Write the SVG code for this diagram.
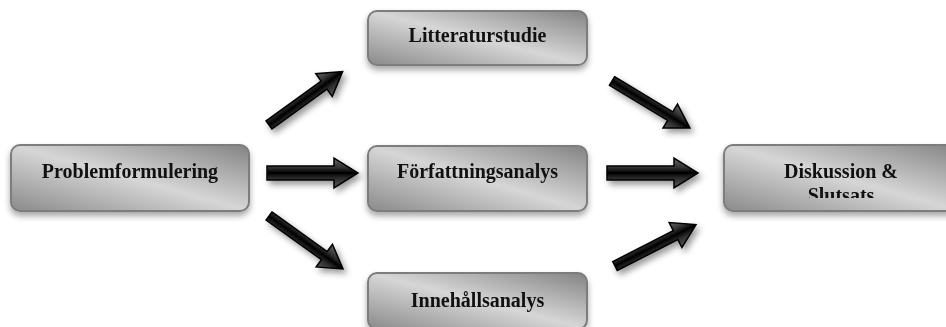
<svg xmlns="http://www.w3.org/2000/svg" xmlns:xlink="http://www.w3.org/1999/xlink" width="946" height="327" viewBox="0 0 946 327">
  <style>
    .box { fill: url(#boxg); stroke: #7d7d7d; stroke-width: 2; }
    .lbl { font-family: "Liberation Serif", "Times New Roman", serif; font-weight: bold; font-size: 20px; fill: #111; text-anchor: middle; }
    .arr { fill: url(#arrg); stroke: #000; stroke-width: 1.5; stroke-linejoin: miter; }
  </style>
  <defs>
    <linearGradient id="boxg" x1="1" y1="0" x2="0" y2="1">
      <stop offset="0" stop-color="#838383"/>
      <stop offset="0.5" stop-color="#d6d6d6"/>
      <stop offset="1" stop-color="#8a8a8a"/>
    </linearGradient>
    <linearGradient id="arrg" x1="0" y1="0" x2="0" y2="1">
      <stop offset="0" stop-color="#6a6a6a"/>
      <stop offset="0.33" stop-color="#2e2e2e"/>
      <stop offset="0.5" stop-color="#000"/>
      <stop offset="0.67" stop-color="#2a2a2a"/>
      <stop offset="1" stop-color="#5a5a5a"/>
    </linearGradient>
    <filter id="bsh" x="-10%" y="-20%" width="120%" height="150%">
      <feDropShadow dx="0" dy="4" stdDeviation="3" flood-color="#000" flood-opacity="0.35"/>
    </filter>
    <filter id="ash" x="-10%" y="-10%" width="120%" height="130%">
      <feDropShadow dx="3" dy="4" stdDeviation="3" flood-color="#000" flood-opacity="0.4"/>
    </filter>
    <path id="harrow" class="arr" d="M0,-7 L67,-7 L67,-15 L91,0 L67,15 L67,7 L0,7 Z"/>
    <path id="darrow" class="arr" d="M0,-5 L68,-5 L68,-14 L91,0 L68,14 L68,5 L0,5 Z"/>
    <clipPath id="dclip">
      <rect x="724" y="145" width="240" height="53"/>
    </clipPath>
  </defs>

  <g id="connectors" filter="url(#ash)">
    <use xlink:href="#darrow" transform="translate(269,125) rotate(-36)"/>
    <use xlink:href="#harrow" transform="translate(267,173)"/>
    <use xlink:href="#darrow" transform="translate(269,216) rotate(35.6)"/>
    <use xlink:href="#darrow" transform="translate(612,81) rotate(31.1)"/>
    <use xlink:href="#harrow" transform="translate(607,173)"/>
    <use xlink:href="#darrow" transform="translate(615,266) rotate(-27.1)"/>
  </g>

  <g id="node-problemformulering">
    <rect class="box" x="11" y="145" width="238" height="66" rx="9" filter="url(#bsh)"/>
    <text class="lbl" x="130" y="178">Problemformulering</text>
  </g>
  <g id="node-litteraturstudie">
    <rect class="box" x="368" y="11" width="219" height="54" rx="9" filter="url(#bsh)"/>
    <text class="lbl" x="477.5" y="42">Litteraturstudie</text>
  </g>
  <g id="node-forfattningsanalys">
    <rect class="box" x="368" y="146" width="219" height="65" rx="9" filter="url(#bsh)"/>
    <text class="lbl" x="477.5" y="178">Författningsanalys</text>
  </g>
  <g id="node-innehallsanalys">
    <rect class="box" x="368" y="273" width="219" height="56" rx="9" filter="url(#bsh)"/>
    <text class="lbl" x="477.5" y="307">Innehållsanalys</text>
  </g>
  <g id="node-diskussion">
    <rect class="box" x="724" y="145" width="236" height="66" rx="9" filter="url(#bsh)"/>
    <text class="lbl" clip-path="url(#dclip)" x="841" y="178">Diskussion &amp;<tspan x="841" dy="24">Slutsats</tspan></text>
  </g>
</svg>
